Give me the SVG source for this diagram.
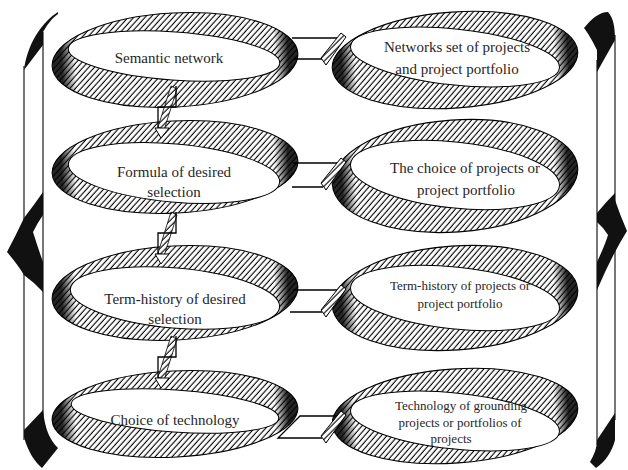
<svg xmlns="http://www.w3.org/2000/svg" xmlns:xlink="http://www.w3.org/1999/xlink" width="628" height="470" viewBox="0 0 628 470">
<style>
.band{fill:url(#hatch);stroke:#000;stroke-width:1.1}
.dark{fill:#000;fill-opacity:0.85}
.hole{fill:#fff;stroke:#000;stroke-width:1}
.t{font-family:"Liberation Serif","Times New Roman",serif;font-size:15px;fill:#262626;text-anchor:middle}
.ts{font-size:13px}
.line{fill:none;stroke:#000;stroke-width:1.3}
.bl{fill:none;stroke:#555;stroke-width:1.6}
.blk{fill:#111}
</style>
<defs>
<pattern id="hatch" patternUnits="userSpaceOnUse" width="4.2" height="8" patternTransform="rotate(45)">
<rect width="4.2" height="8" fill="#fff"/>
<line x1="2" y1="0" x2="2" y2="8" stroke="#000" stroke-width="1.1"/>
</pattern>
<linearGradient id="endG" x1="0" y1="0" x2="1" y2="0">
<stop offset="0" stop-color="#fff"/><stop offset="0.04" stop-color="#fff"/>
<stop offset="0.095" stop-color="#000"/><stop offset="0.905" stop-color="#000"/>
<stop offset="0.96" stop-color="#fff"/><stop offset="1" stop-color="#fff"/>
</linearGradient>
<mask id="ends" maskContentUnits="objectBoundingBox"><rect x="0" y="0" width="1" height="1" fill="url(#endG)"/></mask>
<g id="ahead"><polygon points="321,20 326,27 346,-1 341,-5" fill="url(#hatch)" stroke="#000" stroke-width="1"/></g>
<g id="varrow">
<polygon points="13,0 19,3 6,44 0,41" fill="url(#hatch)" stroke="#000" stroke-width="0.8"/>
<path d="M18,0 V21 H0 V42" fill="none" stroke="#000" stroke-width="1.3"/>
<polygon points="-3,42 11,42 3,52" fill="#fff" stroke="#000" stroke-width="1"/>
</g>
</defs>
<rect width="628" height="470" fill="#fff"/>

<g id="brace-left">
<path class="bl" d="M24,66 V440 M43,32 V420"/>
<path class="blk" d="M58,12 C45,20 28,40 24,70 L43,45 L43,32 C47,25 52,18 58,14 Z"/>
<path class="blk" d="M43,192 Q34,205 24,218 Q16,235 7,252 Q18,265 24,275 Q35,283 43,292 L43,262 Q38,248 33,232 Q38,222 43,215 Z"/>
<path class="blk" d="M43,410 L24,430 L24,437 C28,452 35,462 42,468 L58,448 C50,440 45,430 43,410 Z"/>
</g>
<g id="brace-right">
<path class="bl" d="M597,60 V445 M615,35 V420"/>
<path class="blk" d="M584,28 C592,18 600,12 608,12 C613,18 615,25 615,40 L597,72 L597,50 C592,40 588,33 584,28 Z"/>
<path class="blk" d="M615,193 L615,200 Q620,215 627,231 Q612,255 597,290 L597,262 Q605,245 608,235 Q603,227 597,222 L597,213 Q606,202 615,193 Z"/>
<path class="blk" d="M615,413 L615,440 C612,452 605,462 596,468 L590,462 C594,455 597,448 597,440 Z"/>
</g>

<g id="semantic-network">
<ellipse class="band" cx="175" cy="60" rx="123" ry="47" transform="rotate(-3 175 60)"/>
<ellipse class="dark" cx="175" cy="60" rx="123" ry="47" transform="rotate(-3 175 60)" mask="url(#ends)"/>
<ellipse class="hole" cx="174" cy="56" rx="106" ry="24" transform="rotate(4 174 56)"/>
<text class="t" x="169" y="63">Semantic network</text>
</g>
<g id="formula">
<ellipse class="band" cx="175" cy="167" rx="123" ry="46" transform="rotate(-3 175 167)"/>
<ellipse class="dark" cx="175" cy="167" rx="123" ry="46" transform="rotate(-3 175 167)" mask="url(#ends)"/>
<ellipse class="hole" cx="174" cy="173" rx="106" ry="29" transform="rotate(5 174 173)"/>
<text class="t" x="174" y="177">Formula of desired</text>
<text class="t" x="174" y="197">selection</text>
</g>
<g id="term-history-selection">
<ellipse class="band" cx="175" cy="293" rx="123" ry="47" transform="rotate(-3 175 293)"/>
<ellipse class="dark" cx="175" cy="293" rx="123" ry="47" transform="rotate(-3 175 293)" mask="url(#ends)"/>
<ellipse class="hole" cx="175" cy="298" rx="105" ry="30" transform="rotate(5 175 298)"/>
<text class="t" x="175" y="304">Term-history of desired</text>
<text class="t" x="175" y="324">selection</text>
</g>
<g id="choice-technology">
<ellipse class="band" cx="175" cy="414" rx="123" ry="43" transform="rotate(-3 175 414)"/>
<ellipse class="dark" cx="175" cy="414" rx="123" ry="43" transform="rotate(-3 175 414)" mask="url(#ends)"/>
<ellipse class="hole" cx="175" cy="411" rx="104" ry="21" transform="rotate(4 175 411)"/>
<text class="t" x="175" y="425">Choice of technology</text>
</g>

<g id="networks-set">
<ellipse class="band" cx="455" cy="60" rx="123" ry="48" transform="rotate(-4 455 60)"/>
<ellipse class="dark" cx="455" cy="60" rx="123" ry="48" transform="rotate(-4 455 60)" mask="url(#ends)"/>
<ellipse class="hole" cx="455" cy="57" rx="105" ry="28" transform="rotate(6 455 57)"/>
<text class="t" x="457" y="52">Networks set of projects</text>
<text class="t" x="457" y="74">and project portfolio</text>
</g>
<g id="choice-projects">
<ellipse class="band" cx="455" cy="176" rx="123" ry="56" transform="rotate(-4 455 176)"/>
<ellipse class="dark" cx="455" cy="176" rx="123" ry="56" transform="rotate(-4 455 176)" mask="url(#ends)"/>
<ellipse class="hole" cx="455" cy="175" rx="105" ry="33" transform="rotate(6 455 175)"/>
<text class="t" x="465" y="173">The choice of projects or</text>
<text class="t" x="466" y="195">project portfolio</text>
</g>
<g id="term-history-projects">
<ellipse class="band" cx="455" cy="298" rx="123" ry="52" transform="rotate(-4 455 298)"/>
<ellipse class="dark" cx="455" cy="298" rx="123" ry="52" transform="rotate(-4 455 298)" mask="url(#ends)"/>
<ellipse class="hole" cx="455" cy="298" rx="105" ry="31" transform="rotate(6 455 298)"/>
<text class="t ts" x="460" y="290">Term-history of projects or</text>
<text class="t ts" x="460" y="308">project portfolio</text>
</g>
<g id="technology-grounding">
<ellipse class="band" cx="455" cy="416" rx="123" ry="47" transform="rotate(-4 455 416)"/>
<ellipse class="dark" cx="455" cy="416" rx="123" ry="47" transform="rotate(-4 455 416)" mask="url(#ends)"/>
<ellipse class="hole" cx="455" cy="421" rx="105" ry="28" transform="rotate(6 455 421)"/>
<text class="t ts" x="461" y="410">Technology of grounding</text>
<text class="t ts" x="460" y="427">projects or portfolios of</text>
<text class="t ts" x="451" y="443">projects</text>
</g>

<g id="connectors">
<path class="line" d="M292,38 H343 M294,59 H323"/>
<use href="#ahead" y="38"/>
<path class="line" d="M293,163 H343 M292,187 H323"/>
<use href="#ahead" y="163"/>
<path class="line" d="M293,290 H343 M290,312 H322"/>
<use href="#ahead" y="290"/>
<path class="line" d="M343,416 H300 L278,438 H322"/>
<use href="#ahead" y="416"/>
<use href="#varrow" x="158" y="86"/>
<use href="#varrow" x="158" y="212"/>
<use href="#varrow" x="158" y="336"/>
</g>
</svg>
